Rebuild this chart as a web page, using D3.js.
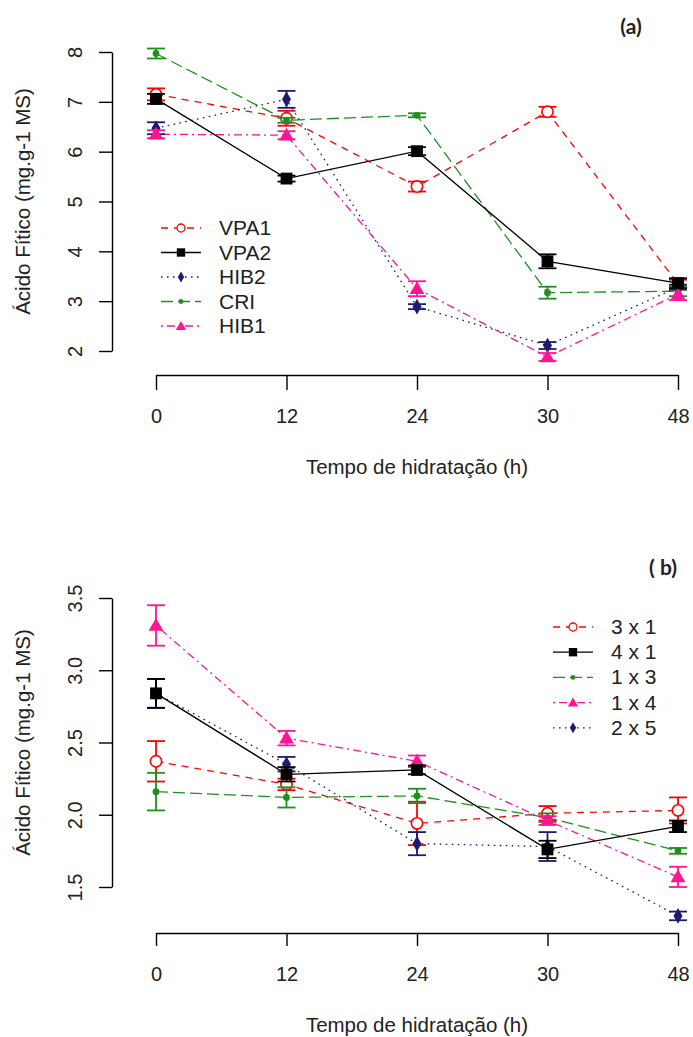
<!DOCTYPE html>
<html>
<head>
<meta charset="utf-8">
<script src="https://cdn.jsdelivr.net/npm/d3@7"></script>
<style>
  html, body { margin: 0; padding: 0; background: #fff; }
  svg { display: block; }
  text { font-family: "Liberation Sans", Arial, sans-serif; fill: #222; }
</style>
</head>
<body>
<svg id="chart" width="693" height="1037"></svg>
<script>
// Hydration time (h) — shared categorical x axis
const hours = ["0", "12", "24", "30", "48"];

// Panel (a): phytic acid by cultivar (mean and standard error)
const meanVPA1 = [7.15, 6.67, 5.30, 6.80, 3.35];
const errVPA1  = [0.12, 0.15, 0.10, 0.10, 0.08];
const meanVPA2 = [7.06, 5.46, 6.01, 3.80, 3.36];
const errVPA2  = [0.10, 0.06, 0.08, 0.14, 0.10];
const meanHIB2 = [6.47, 7.05, 2.89, 2.11, 3.28];
const errHIB2  = [0.12, 0.17, 0.05, 0.07, 0.05];
const meanCRI  = [7.97, 6.63, 6.73, 3.17, 3.20];
const errCRI   = [0.10, 0.05, 0.04, 0.12, 0.10];
const meanHIB1 = [6.35, 6.33, 3.25, 1.88, 3.14];
const errHIB1  = [0.08, 0.08, 0.15, 0.08, 0.12];
const ticksA = [2, 3, 4, 5, 6, 7, 8];

// Panel (b): phytic acid by cross (mean and standard error)
const mean3x1 = [2.37, 2.21, 1.94, 2.01, 2.03];
const err3x1  = [0.14, 0.04, 0.15, 0.05, 0.09];
const mean4x1 = [2.84, 2.28, 2.31, 1.76, 1.92];
const err4x1  = [0.10, 0.05, 0.03, 0.06, 0.04];
const mean1x3 = [2.16, 2.12, 2.13, 1.98, 1.75];
const err1x3  = [0.13, 0.07, 0.05, 0.03, 0.02];
const mean1x4 = [3.31, 2.53, 2.37, 1.96, 1.57];
const err1x4  = [0.14, 0.05, 0.04, 0.03, 0.07];
const mean2x5 = [2.84, 2.35, 1.80, 1.78, 1.30];
const err2x5  = [0.10, 0.05, 0.08, 0.10, 0.03];
const ticksB = [1.5, 2.0, 2.5, 3.0, 3.5];

// Line/marker styles
const RED = "#ff0000", BLACK = "#000000", NAVY = "#1b1b72", GREEN = "#1f8f1f", PINK = "#ff1493";
const styleRed   = { color: RED,   dash: "7,6",       marker: "circle" };
const styleBlack = { color: BLACK, dash: null,        marker: "square" };
const styleNavy  = { color: NAVY,  dash: "1.6,4.4",   marker: "diamond" };
const styleGreen = { color: GREEN, dash: "12,5",      marker: "dot" };
const stylePink  = { color: PINK,  dash: "2,4,8,4",   marker: "triangle" };

const panelA = {
  legend: [
    { name: "VPA1", mean: meanVPA1, err: errVPA1, style: styleRed },
    { name: "VPA2", mean: meanVPA2, err: errVPA2, style: styleBlack },
    { name: "HIB2", mean: meanHIB2, err: errHIB2, style: styleNavy },
    { name: "CRI",  mean: meanCRI,  err: errCRI,  style: styleGreen },
    { name: "HIB1", mean: meanHIB1, err: errHIB1, style: stylePink }
  ],
  drawOrder: ["VPA1", "CRI", "HIB2", "HIB1", "VPA2"]
};
const panelB = {
  legend: [
    { name: "3 x 1", mean: mean3x1, err: err3x1, style: styleRed },
    { name: "4 x 1", mean: mean4x1, err: err4x1, style: styleBlack },
    { name: "1 x 3", mean: mean1x3, err: err1x3, style: styleGreen },
    { name: "1 x 4", mean: mean1x4, err: err1x4, style: stylePink },
    { name: "2 x 5", mean: mean2x5, err: err2x5, style: styleNavy }
  ],
  drawOrder: ["3 x 1", "1 x 3", "1 x 4", "2 x 5", "4 x 1"]
};

const svg = d3.select("#chart");
const x = d3.scalePoint().domain(hours).range([156, 678]);

const markerArea = { circle: 100, square: 140, diamond: 70, dot: 36, triangle: 95 };
const markerType = {
  circle: d3.symbolCircle, square: d3.symbolSquare, diamond: d3.symbolDiamond,
  dot: d3.symbolCircle, triangle: d3.symbolTriangle
};

function drawMarker(g, cx, cy, st, scale) {
  const k = scale || 1;
  const p = g.append("path")
    .attr("d", d3.symbol(markerType[st.marker], markerArea[st.marker] * k)())
    .attr("transform", `translate(${cx},${cy + (st.marker === "triangle" ? 1 : 0)})`);
  if (st.marker === "circle") {
    p.attr("fill", "#fff").attr("stroke", st.color).attr("stroke-width", k < 1 ? 1.3 : 1.6);
  } else {
    p.attr("fill", st.color);
  }
}

function drawPanel(cfg) {
  const { panel, y, ticks, fmt, axisY, tickLenX, tag, tagX, tagY, legendX, legendY, legendStep } = cfg;
  const g = svg.append("g");

  // y axis
  const ya = g.append("g").attr("transform", "translate(112,0)")
    .call(d3.axisLeft(y).tickValues(ticks).tickFormat(fmt).tickSize(13).tickSizeOuter(0));
  ya.selectAll("text")
    .attr("x", null).attr("dy", null)
    .attr("transform", "translate(-30,0) rotate(-90)")
    .attr("text-anchor", "middle")
    .style("font-size", "20px");

  // x axis
  const xa = g.append("g").attr("transform", `translate(0,${axisY})`)
    .call(d3.axisBottom(x).tickSize(tickLenX).tickSizeOuter(0));
  xa.selectAll("text").attr("dy", null).attr("y", 48).style("font-size", "20px");

  [ya, xa].forEach(a => {
    a.select(".domain").attr("stroke", "#000").attr("stroke-width", 1.4);
    a.selectAll(".tick line").attr("stroke", "#000").attr("stroke-width", 1.4);
    a.selectAll("text").attr("fill", "#222").style("font-family", '"Liberation Sans", Arial, sans-serif');
  });

  // axis titles
  const yMid = (y(ticks[0]) + y(ticks[ticks.length - 1])) / 2;
  g.append("text")
    .attr("transform", `translate(30,${yMid}) rotate(-90)`)
    .attr("text-anchor", "middle")
    .style("font-size", "20.5px")
    .text("Ácido Fítico (mg.g-1 MS)");
  g.append("text")
    .attr("x", (x.range()[0] + x.range()[1]) / 2)
    .attr("y", axisY + 99)
    .attr("text-anchor", "middle")
    .style("font-size", "20.5px")
    .text("Tempo de hidratação (h)");

  // panel tag
  g.append("text")
    .attr("x", tagX).attr("y", tagY)
    .attr("text-anchor", "middle")
    .style("font-family", "Lato, 'Open Sans', sans-serif")
    .style("font-weight", "bold")
    .style("font-size", "21px")
    .attr("fill", "#222")
    .text(tag);

  const byName = new Map(panel.legend.map(s => [s.name, s]));
  const line = d3.line().x((d, i) => x(hours[i])).y(d => y(d));

  // connecting lines
  panel.drawOrder.forEach(name => {
    const s = byName.get(name);
    g.append("path")
      .attr("d", line(s.mean))
      .attr("fill", "none")
      .attr("stroke", s.style.color)
      .attr("stroke-width", 1.3)
      .attr("stroke-dasharray", s.style.dash);
  });

  // error bars and markers
  panel.drawOrder.forEach(name => {
    const s = byName.get(name);
    const sg = g.append("g");
    s.mean.forEach((m, i) => {
      const cx = x(hours[i]);
      const y0 = y(m - s.err[i]), y1 = y(m + s.err[i]);
      sg.append("line").attr("x1", cx).attr("x2", cx).attr("y1", y0).attr("y2", y1)
        .attr("stroke", s.style.color).attr("stroke-width", 1.8);
      [y0, y1].forEach(yy => sg.append("line")
        .attr("x1", cx - 9).attr("x2", cx + 9).attr("y1", yy).attr("y2", yy)
        .attr("stroke", s.style.color).attr("stroke-width", 1.8));
      drawMarker(sg, cx, y(m), s.style, 1);
    });
  });

  // legend
  const lg = g.append("g");
  panel.legend.forEach((s, i) => {
    const ly = legendY + i * legendStep;
    lg.append("line")
      .attr("x1", legendX).attr("x2", legendX + 40).attr("y1", ly).attr("y2", ly)
      .attr("stroke", s.style.color).attr("stroke-width", 1.3)
      .attr("stroke-dasharray", s.style.dash);
    drawMarker(lg, legendX + 20, ly, s.style, 0.5);
    lg.append("text")
      .attr("x", legendX + 58).attr("y", ly + 7)
      .style("font-size", "21px")
      .text(s.name);
  });
}

drawPanel({
  panel: panelA,
  y: d3.scaleLinear().domain([2, 8]).range([351, 52]),
  ticks: ticksA, fmt: d3.format("d"),
  axisY: 375, tickLenX: 15,
  tag: "(a)", tagX: 631, tagY: 34,
  legendX: 161, legendY: 228, legendStep: 24.5
});

drawPanel({
  panel: panelB,
  y: d3.scaleLinear().domain([1.5, 3.5]).range([887, 598]),
  ticks: ticksB, fmt: d3.format(".1f"),
  axisY: 933, tickLenX: 13,
  tag: "( b)", tagX: 663, tagY: 575,
  legendX: 553, legendY: 627, legendStep: 25.2
});
</script>
</body>
</html>
